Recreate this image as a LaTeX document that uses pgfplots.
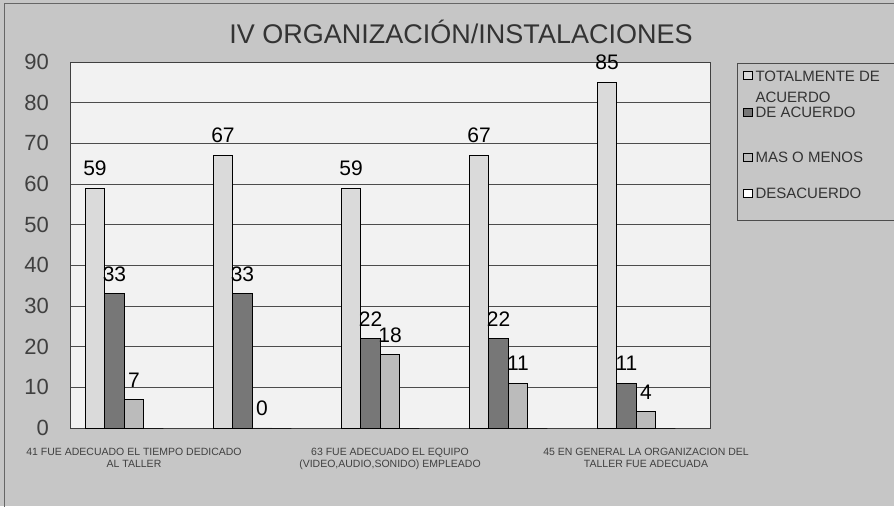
\documentclass[border=0pt]{standalone}
\usepackage{pgfplots}
\pgfplotsset{compat=1.18}
\usepackage{fontspec}
\setmainfont{Liberation Sans}
\definecolor{outerbg}{HTML}{C6C6C6}
\definecolor{plotbg}{HTML}{F2F2F2}
\definecolor{sA}{HTML}{DADADA}
\definecolor{sB}{HTML}{777777}
\definecolor{sC}{HTML}{BBBBBB}
\definecolor{sD}{HTML}{FFFFFF}
\begin{document}
\begin{tikzpicture}[x=1pt,y=1pt]
\useasboundingbox (0pt,0pt) rectangle (894pt,506pt);
\clip (0pt,0pt) rectangle (894pt,506pt);
\fill[outerbg] (0pt,0pt) rectangle (894pt,506pt);
\draw[black!60, line width=0.8pt] (4pt,-5pt) -- (4pt,503pt) -- (900pt,503pt);
\node[anchor=base, font=\fontsize{27}{30}\selectfont, text=black!80, inner sep=0pt] at (461pt,462pt) {IV ORGANIZACIÓN/INSTALACIONES};
\begin{axis}[
  at={(70pt,78pt)}, anchor=south west,
  scale only axis, width=640pt, height=366pt,
  ybar, bar width=19.5pt,
  xmin=-0.5, xmax=4.5, ymin=0, ymax=90,
  ytick={0,10,...,90},
  xtick={0,2,4},
  xticklabels={{41 FUE ADECUADO EL TIEMPO DEDICADO\\AL TALLER},
               {63 FUE ADECUADO EL EQUIPO\\(VIDEO,AUDIO,SONIDO) EMPLEADO},
               {45 EN GENERAL LA ORGANIZACION DEL\\TALLER FUE ADECUADA}},
  major tick length=0pt,
  /pgf/number format/assume math mode=true,
  yticklabel style={font=\fontsize{22}{24}\selectfont, text=black!75, anchor=east, inner sep=0pt, xshift=-21pt},
  xticklabel style={font=\fontsize{10.5}{11.5}\selectfont, text=black!75, align=center, anchor=north, inner sep=0pt, yshift=-20pt},
  ymajorgrids, grid style={black!70, line width=0.8pt},
  axis line style={black!75, line width=0.8pt},
  axis background/.style={fill=plotbg},
  clip=false,
  nodes near coords style={font=\fontsize{21}{21}\selectfont, text=black, inner sep=0pt, anchor=south, yshift=12pt},
  legend image code/.code={\draw[#1, draw=black, line width=0.6pt] (0pt,1.5pt) rectangle (8.5pt,9.5pt);},
  legend style={at={(1.0422,0.9973)}, anchor=north west, draw=black!70, line width=0.8pt, fill=none,
    inner xsep=6pt, inner ysep=6.7pt, row sep=0pt, column sep=3pt,
    nodes={inner sep=0pt, font=\fontsize{15}{21}\selectfont, text=black!80}},
]
\addplot[fill=sA, draw=black, line width=0.8pt, bar shift=-39pt, nodes near coords] coordinates {(0,59) (1,67) (2,59) (3,67) (4,85)};
\addlegendentry[anchor=base west, text height=11pt, text depth=25.3pt]{\makebox[165pt][l]{\smash{\begin{tabular}[t]{@{}l@{}}TOTALMENTE DE\\ACUERDO\end{tabular}}}}
\addplot[fill=sB, draw=black, line width=0.8pt, bar shift=-19.5pt, nodes near coords] coordinates {(0,33) (1,33) (2,22) (3,22) (4,11)};
\addlegendentry[anchor=base west, text height=11pt, text depth=34pt]{DE ACUERDO}
\addplot[fill=sC, draw=black, line width=0.8pt, bar shift=0pt, nodes near coords] coordinates {(0,7) (1,0) (2,18) (3,11) (4,4)};
\addlegendentry[anchor=base west, text height=11pt, text depth=25pt]{MAS O MENOS}
\addplot[fill=sD, draw=black, line width=0.8pt, bar shift=19.5pt] coordinates {(0,0) (1,0) (2,0) (3,0) (4,0)};
\addlegendentry[anchor=base west, text height=11pt, text depth=15pt]{DESACUERDO}
\end{axis}
\end{tikzpicture}
\end{document}
